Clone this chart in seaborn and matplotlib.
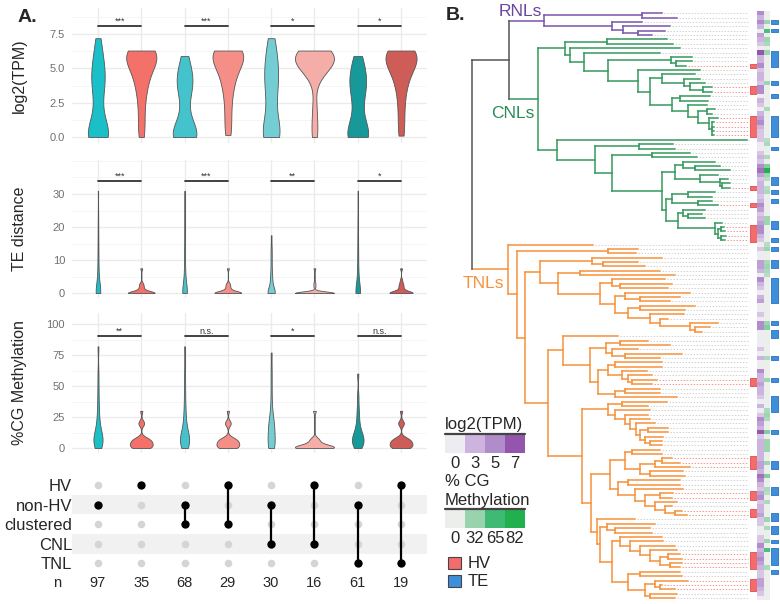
import numpy as np
import pandas as pd
import matplotlib
matplotlib.use("Agg")
import matplotlib.pyplot as plt
import seaborn as sns
from matplotlib.colors import LinearSegmentedColormap
from matplotlib.collections import LineCollection
from matplotlib.patches import Rectangle
from matplotlib.ticker import MultipleLocator

# ---------------- panel A data ----------------
group_order = ["g1", "g2", "g3", "g4", "g5", "g6", "g7", "g8"]
group_colors = ["#1ABFC8", "#F47169", "#45C3CC", "#F48E87",
                "#73CDD3", "#F5ADA8", "#17999A", "#CE5C57"]

tpm_by_group = [
    [0, 0, 0, 0, 0, 0, 0.1, 0.3, 0.6, 1.0, 1.5, 2.2, 2.9, 3.4, 3.8, 4.1, 4.4, 4.7, 5.0, 5.4, 5.9, 6.5, 7.2],
    [0, 0.8, 1.8, 2.7, 3.4, 3.9, 4.3, 4.7, 5.0, 5.3, 5.5, 5.7, 5.9, 6.0, 6.1, 6.2, 6.3, 6.3, 6.3],
    [0, 0, 0, 0, 0, 0, 0.2, 0.5, 0.9, 1.5, 2.4, 3.2, 3.6, 3.9, 4.1, 4.4, 4.8, 5.3, 5.9],
    [0.15, 1.0, 2.0, 2.9, 3.6, 4.1, 4.5, 4.9, 5.2, 5.5, 5.7, 5.9, 6.0, 6.1, 6.2, 6.3, 6.3, 6.3],
    [0, 0, 0, 0, 0.2, 0.5, 1.0, 1.6, 2.3, 3.0, 3.5, 3.9, 4.3, 4.7, 5.1, 5.5, 6.0, 6.6, 7.2],
    [0, 0.9, 2.2, 4.2, 4.8, 5.1, 5.3, 5.4, 5.5, 5.6, 5.7, 5.8, 5.9, 6.0, 6.1, 6.2, 6.3, 6.3],
    [0, 0, 0, 0, 0, 0.3, 0.7, 1.2, 2.0, 2.7, 3.2, 3.6, 3.9, 4.2, 4.5, 4.9, 5.4, 5.9],
    [0.1, 1.1, 2.2, 3.1, 3.8, 4.3, 4.7, 5.0, 5.3, 5.5, 5.7, 5.9, 6.0, 6.1, 6.2, 6.3, 6.3],
]
te_by_group = [
    [0, 0, 0, 0, 0, 0, 0, 0, 0, 0, 0.5, 1, 2, 3, 4, 5, 6, 8, 10, 12, 14, 17, 20, 24, 31],
    [0, 0, 0, 0, 0, 0, 0, 0, 0, 0, 0, 0, 0.3, 0.5, 0.8, 1, 1.5, 2, 2.5, 3, 7.5],
    [0, 0, 0, 0, 0, 0, 0, 0, 0, 0, 0.5, 1, 2, 3, 4, 5, 6, 8, 10, 12, 14, 17, 20, 24, 31],
    [0, 0, 0, 0, 0, 0, 0, 0, 0, 0, 0, 0, 0.3, 0.5, 0.8, 1, 1.5, 2, 2.5, 3, 7.5],
    [0, 0, 0, 0, 0, 0, 0, 0, 0, 0.5, 1, 2, 3, 4, 5, 6, 8, 10, 12, 14, 17.5],
    [0, 0, 0, 0, 0, 0, 0, 0, 0, 0, 0, 0, 0, 0, 0, 0, 0, 0, 0, 0, 0.2, 0.4, 2, 3, 7.5],
    [0, 0, 0, 0, 0, 0, 0, 0, 0, 0, 0.5, 1, 2, 3, 4, 5, 6, 8, 10, 12, 14, 17, 20, 24, 31],
    [0, 0, 0, 0, 0, 0, 0, 0, 0, 0, 0, 0.3, 0.6, 1, 1.5, 2, 2.5, 3, 4, 7.5],
]
cg_by_group = [
    [0, 1, 2, 3, 4, 5, 6, 7, 8, 9, 10, 12, 14, 16, 20, 25, 30, 38, 48, 60, 82],
    [0, 0, 0, 0, 1, 1, 2, 2, 3, 3, 4, 4, 5, 5, 6, 6, 7, 7, 8, 8, 19, 20, 21, 30],
    [0, 1, 2, 3, 4, 5, 6, 7, 8, 9, 10, 12, 14, 16, 20, 25, 30, 38, 48, 60, 82],
    [0, 0, 0, 0, 1, 1, 2, 2, 3, 3, 4, 4, 5, 5, 6, 6, 7, 7, 8, 8, 19, 20, 21, 30],
    [0, 0, 1, 2, 4, 6, 8, 10, 12, 14, 16, 18, 20, 22, 25, 30, 38, 50, 62, 77],
    [0, 0, 0, 0, 0, 0, 0, 0, 0, 1, 1, 1, 2, 2, 2, 3, 3, 5, 6, 7, 8, 30],
    [0, 1, 2, 3, 4, 5, 6, 7, 8, 9, 10, 11, 13, 15, 18, 22, 27, 33, 42, 60],
    [0, 0, 0, 0, 1, 1, 2, 2, 3, 3, 4, 4, 5, 5, 6, 6, 7, 7, 8, 8, 19, 20, 21, 30],
]
sig_tpm = ["***", "***", "*", "*"]
sig_te = ["***", "***", "**", "*"]
sig_cg = ["**", "n.s.", "*", "n.s."]

matrix_rows = ["HV", "non-HV", "clustered", "CNL", "TNL"]
matrix_sets = [["non-HV"], ["HV"], ["non-HV", "clustered"], ["HV", "clustered"],
               ["non-HV", "CNL"], ["HV", "CNL"], ["non-HV", "TNL"], ["HV", "TNL"]]
n_counts = [97, 35, 68, 29, 30, 16, 61, 19]

# ---------------- panel B data ----------------
# nested lists: [node depth, child, child, ...]; plain numbers are tip depths
rnl_tree = [544, [642, 662, 677], [612, 642, [623, 670, [638, 665, 652]]]]
cnl_tree = [538,
    [565,
        [607, 667, 673],
        [570, 680,
            [584, 660,
                [608,
                    [671, 692, [676, 692, 686]],
                    [638, 700,
                        [650,
                            [662, 695, [684, 700, [690, 705, [703, 712, 712]]]],
                            [672, [680, 710, 708],
                                [688, 707, [698, [707, 715, 712],
                                            [709, 718, [712, 714, 714, 714, 714]]]]]]]]]]],
    [557, 747,
        [595,
            [639, 673, 675],
            [612,
                [652, 690, 697],
                [662,
                    [675, [683, 715, [695, 720, 730]], [700, 718, [720, 728, [722, 730, 730]]]],
                    [666,
                        [672, [688, 715, 712], [698, 712, 718]],
                        [678, [683, 705, [688, 702, 705]],
                              [715, 722, [718, [721, 724, 725], [721, 726, 725]]]]]]]]]]
tnl_tree = [508, 593,
    [517,
        [608, 638, 636],
        [525,
            [540,
                [592, 662, [603, 638, 645]],
                [558,
                    [580, 660, 675],
                    [600,
                        [612, 665, [620, 672, 668]],
                        [615,
                            [625, 690, [640, 680, 670]],
                            [628, [640, 695, 685],
                                  [650, 684, [660, 668, [690, 718, [695, 710, 702]]]]]]]]],
            [548,
                [563, 618,
                    [590,
                        [606, [620, 648, 670], [612, 638, [625, 682, 660]]],
                        [598, [608, [615, 662, 662], [622, 647, [628, 652, [632, 657, 652]]]],
                              [615, [625, 660, 660], 677]]]],
                [582,
                    [608, [622, 667, 648],
                          [615, 650, [625, 648, [630, 650, [636, 655,
                              [640, [648, 668, 668], [645, 663, [650, 662, 662]]]]]]]],
                    [591,
                        [610,
                            [625, [632, 660, 662], [640, [655, [662, 672, 680], 690], [650, 683, 685]]],
                            [618, [628, 680, 680],
                                  [635, 683, [645, [660, 673, 672],
                                              [655, 677, [665, 672, [675, 682, 687]]]]]]],
                        [597, 635,
                            [600,
                                [607, 655, [615, 650, 652]],
                                [612,
                                    [620, 662, [630, 663, [640, 675, [650, 677,
                                        [660, [668, 680, 682], [670, 682, 680]]]]]],
                                    [628, [640, 680, 682],
                                          [645, [655, 688, [660, 662, 675]], [650, 677, 675]]]]]]]]]]]]

hv_leaves = [12, 17, 18, 24, 25, 26, 27, 28, 40, 44, 49, 50, 51, 52, 84, 85,
             102, 103, 104, 110, 111, 114, 115, 124, 125, 126, 127, 130, 131, 132]
te_leaves = [2, 4, 9, 10, 11, 12, 16, 19, 24, 25, 26, 27, 28, 31, 38, 39, 41, 43, 48, 49,
             52, 54, 57, 58, 61, 62, 63, 64, 65, 66, 71, 73, 74, 79, 84, 88, 89, 90, 91,
             96, 103, 104, 109, 110, 115, 116, 118, 119, 121, 123, 124, 125, 126, 128]
tpm_leaves = [5, 3, 5, 3, 0, 4, 3, 2, 0, 7,
              3, 3, 5, 2, 3, 3, 2, 5, 5, 0,
              3, 2, 0, 3, 4, 5, 3, 2, 2, 2,
              0, 0, 2, 3, 2, 5, 6, 4, 2, 3,
              3, 3, 2, 3, 5, 4, 2, 3, 4, 5,
              5, 3, 2, 0, 2, 0, 0, 4, 4, 3,
              0, 5, 3, 2, 0, 3, 4, 0, 0, 2,
              0, 5, 5, 0, 0, 0, 0, 2, 0, 3,
              0, 0, 5, 3, 3, 4, 3, 3, 2, 0,
              3, 0, 2, 5, 4, 3, 7, 2, 3, 3,
              3, 3, 3, 4, 4, 3, 6, 5, 3, 2,
              4, 5, 2, 3, 3, 4, 2, 2, 0, 0,
              2, 2, 5, 3, 4, 5, 4, 3, 2, 2,
              4, 4, 3, 2, 0]
cg_leaves = [0, 0, 30, 0, 60, 0, 30, 25, 0, 30,
             0, 0, 0, 0, 0, 0, 30, 0, 0, 0,
             0, 0, 25, 0, 0, 0, 0, 0, 0, 20,
             25, 0, 0, 25, 0, 40, 82, 30, 20, 0,
             20, 25, 0, 0, 0, 0, 0, 30, 30, 0,
             0, 0, 0, 20, 30, 0, 0, 25, 30, 25,
             20, 0, 0, 0, 0, 0, 0, 0, 0, 0,
             0, 30, 40, 0, 0, 0, 0, 0, 0, 25,
             0, 0, 0, 0, 30, 0, 0, 0, 0, 0,
             0, 25, 30, 25, 0, 0, 40, 0, 30, 30,
             30, 0, 0, 30, 0, 0, 40, 0, 0, 25,
             20, 0, 25, 0, 0, 0, 30, 0, 25, 0,
             0, 30, 0, 60, 0, 0, 0, 25, 0, 0,
             0, 0, 0, 0, 0]
tpm_legend = [0, 3, 5, 7]
cg_legend = [0, 32, 65, 82]

clade_colors = {"RNL": "#7A55AD", "CNL": "#349A5E", "TNL": "#F7923A", "root": "#555555"}

# ---------------- style ----------------
sns.set_style("white")
plt.rcParams["font.family"] = ["Liberation Sans", "DejaVu Sans"]

W, H = 780, 604
fig = plt.figure(figsize=(7.8, 6.04), dpi=100)


def box(left, top, right, bottom):
    return [left / W, 1 - bottom / H, (right - left) / W, (bottom - top) / H]


def violin_panel(ax, values, ylim, ticks, ticklabels, minor, ylabel, sig, sig_y, bw):
    df = pd.DataFrame({
        "grp": np.repeat(group_order, [len(v) for v in values]),
        "val": np.concatenate([np.asarray(v, float) for v in values]),
    })
    sns.violinplot(data=df, x="grp", y="val", hue="grp", order=group_order,
                   hue_order=group_order, palette=dict(zip(group_order, group_colors)),
                   legend=False, cut=0, inner=None, density_norm="area", common_norm=True,
                   width=0.9, linewidth=0.6, linecolor="#555555", saturation=1,
                   bw_method="silverman", bw_adjust=bw, ax=ax)
    ax.set_xlim(-0.6, 7.6)
    ax.set_ylim(*ylim)
    ax.set_xticks(range(8))
    ax.set_xticklabels([])
    ax.set_yticks(ticks)
    ax.set_yticklabels(ticklabels)
    ax.yaxis.set_minor_locator(MultipleLocator(minor))
    ax.tick_params(length=0, labelsize=8, labelcolor="#707070", pad=5)
    ax.grid(True, which="major", color="#EBEBEB", lw=1.0)
    ax.grid(True, which="minor", axis="y", color="#F4F4F4", lw=0.6)
    ax.set_axisbelow(True)
    for s in ax.spines.values():
        s.set_visible(False)
    ax.set_xlabel("")
    ax.set_ylabel(ylabel, fontsize=11.5)
    ax.yaxis.set_label_coords(-0.128, 0.5)
    for k, lab in enumerate(sig):
        ax.plot([2 * k, 2 * k + 1], [sig_y, sig_y], color="#333333", lw=1.3)
        ax.text(2 * k + 0.5, sig_y, lab, ha="center", va="bottom", fontsize=6.5,
                color="#333333")


ax1 = fig.add_axes(box(72, 8, 427, 143))
violin_panel(ax1, tpm_by_group, (-0.44, 9.4), [0, 2.5, 5, 7.5],
             ["0.0", "2.5", "5.0", "7.5"], 1.25, "log2(TPM)", sig_tpm, 8.08, 0.75)
ax2 = fig.add_axes(box(72, 160, 427, 298))
violin_panel(ax2, te_by_group, (-1.5, 40.3), [0, 10, 20, 30],
             ["0", "10", "20", "30"], 5, "TE distance", sig_te, 33.9, 0.5)
ax3 = fig.add_axes(box(72, 313, 427, 453))
violin_panel(ax3, cg_by_group, (-4, 108.9), [0, 25, 50, 75, 100],
             ["0", "25", "50", "75", "100"], 12.5, "%CG Methylation", sig_cg, 90.3, 0.5)

# membership matrix
ax4 = fig.add_axes(box(72, 473, 427, 596))
rows_idx = {r: i for i, r in enumerate(matrix_rows)}
mat = pd.DataFrame([(c, rows_idx[r], r in s) for c, s in enumerate(matrix_sets)
                    for r in matrix_rows], columns=["col", "row", "member"])
for r in (1, 3):
    ax4.axhspan(r - 0.5, r + 0.5, color="#F1F1F1", lw=0, zorder=0)
for c, s in enumerate(matrix_sets):
    ys = [rows_idx[r] for r in s]
    ax4.plot([c, c], [min(ys), max(ys)], color="black", lw=1.6, zorder=2)
sns.scatterplot(data=mat[~mat["member"]], x="col", y="row", color="#D5D5D5",
                s=30, linewidth=0, ax=ax4, zorder=1)
sns.scatterplot(data=mat[mat["member"]], x="col", y="row", color="black",
                s=36, linewidth=0, ax=ax4, zorder=3)
for c, n in enumerate(n_counts):
    ax4.text(c, 5, str(n), ha="center", va="center", fontsize=10.5)
ax4.text(-0.95, 5, "n", ha="center", va="center", fontsize=10.5)
ax4.set_xlim(-0.6, 7.6)
ax4.set_ylim(5.66, -0.61)
ax4.set_xticks([])
ax4.set_yticks(range(5))
ax4.set_yticklabels(matrix_rows, fontsize=12)
ax4.tick_params(length=0, pad=0)
ax4.set_xlabel("")
ax4.set_ylabel("")
for s in ax4.spines.values():
    s.set_visible(False)

fig.text(18 / W, 1 - 18 / H, "A.", fontsize=14, weight="bold", va="center")

# ---------------- panel B: tree ----------------
n_leaves = len(tpm_leaves)
axt = fig.add_axes(box(440, 11.1, 780, 600.2))
axt.set_xlim(440, 780)
axt.set_ylim(n_leaves - 0.5, -0.5)
axt.axis("off")


def walk(node, parent_x, segs, tips):
    if not isinstance(node, list):
        y = len(tips)
        tips.append(node)
        segs.append([(parent_x, y), (node, y)])
        return y
    x = node[0]
    ys = [walk(c, x, segs, tips) for c in node[1:]]
    segs.append([(x, min(ys)), (x, max(ys))])
    y = (min(ys) + max(ys)) / 2
    segs.append([(parent_x, y), (x, y)])
    return y


root_x, upper_x = 472, 509
tips = []
segs_r, segs_c, segs_t = [], [], []
y_r = walk(rnl_tree, upper_x, segs_r, tips)
y_c = walk(cnl_tree, upper_x, segs_c, tips)
y_t = walk(tnl_tree, root_x, segs_t, tips)
y_up = (y_r + y_c) / 2
segs_root = [[(upper_x, y_r), (upper_x, y_c)], [(root_x, y_up), (upper_x, y_up)],
             [(root_x, y_up), (root_x, y_t)]]

hv_set = set(hv_leaves)
for i, tip in enumerate(tips):
    col = "#F39A98" if i in hv_set else "#D2D2D2"
    axt.plot([tip + 2, 748], [i, i], color=col, lw=0.7, ls=(0, (1.5, 1.6)), zorder=1)

for segs, key in ((segs_r, "RNL"), (segs_c, "CNL"), (segs_t, "TNL"), (segs_root, "root")):
    axt.add_collection(LineCollection(segs, colors=clade_colors[key], linewidths=1.1,
                                      capstyle="projecting", zorder=2))


def runs(idx):
    idx = sorted(idx)
    out, start = [], idx[0]
    for a, b in zip(idx, idx[1:] + [None]):
        if b != a + 1:
            out.append((start, a))
            start = b
    return out


for a, b in runs(hv_leaves):
    axt.add_patch(Rectangle((750, a - 0.45), 6.5, b - a + 0.9, fc="#F36B6A",
                            ec="#DE4E4C", lw=0.6, joinstyle="round", zorder=3))
for a, b in runs(te_leaves):
    axt.add_patch(Rectangle((771, a - 0.4), 7, b - a + 0.8, fc="#3D8FDB",
                            ec="#2A72BD", lw=0.6, joinstyle="round", zorder=3))

tpm_cmap = LinearSegmentedColormap.from_list(
    "tpm", [(0, "#EDECF0"), (3 / 7, "#CDB4DE"), (5 / 7, "#B18CCB"), (1, "#9456AD")])
cg_cmap = LinearSegmentedColormap.from_list(
    "cg", [(0, "#ECEEEC"), (32 / 82, "#98D3AD"), (65 / 82, "#3EBA74"), (1, "#22B04F")])

ax_tpm = fig.add_axes(box(757, 11.1, 763.5, 600.2))
sns.heatmap(np.array(tpm_leaves, float).reshape(-1, 1), cmap=tpm_cmap, vmin=0, vmax=7,
            cbar=False, xticklabels=False, yticklabels=False, ax=ax_tpm)
ax_cg = fig.add_axes(box(763.5, 11.1, 770, 600.2))
sns.heatmap(np.array(cg_leaves, float).reshape(-1, 1), cmap=cg_cmap, vmin=0, vmax=82,
            cbar=False, xticklabels=False, yticklabels=False, ax=ax_cg)

# clade labels
fig.text(520 / W, 1 - 11 / H, "RNLs", color="#6A45A0", fontsize=12.5, ha="center", va="center")
fig.text(513 / W, 1 - 113 / H, "CNLs", color="#2A8C55", fontsize=12.5, ha="center", va="center")
fig.text(483 / W, 1 - 284 / H, "TNLs", color="#F7923A", fontsize=12.5, ha="center", va="center")
fig.text(446 / W, 1 - 16 / H, "B.", fontsize=14, weight="bold", va="center")

# legends
fig.text(445 / W, 1 - 425 / H, "log2(TPM)", fontsize=12, va="center")
axl1 = fig.add_axes(box(445, 434, 525, 453))
sns.heatmap(np.array([tpm_legend], float), cmap=tpm_cmap, vmin=0, vmax=7, cbar=False,
            xticklabels=[str(v) for v in tpm_legend], yticklabels=False, ax=axl1)
axl1.axhline(0, color="#444444", lw=1.6, clip_on=False)
axl1.tick_params(length=0, labelsize=12, pad=2)

fig.text(445 / W, 1 - 481 / H, "% CG", fontsize=12, va="center")
fig.text(445 / W, 1 - 500 / H, "Methylation", fontsize=12, va="center")
axl2 = fig.add_axes(box(445, 509, 525, 528))
sns.heatmap(np.array([cg_legend], float), cmap=cg_cmap, vmin=0, vmax=82, cbar=False,
            xticklabels=[str(v) for v in cg_legend], yticklabels=False, ax=axl2)
axl2.axhline(0, color="#444444", lw=1.6, clip_on=False)
axl2.tick_params(length=0, labelsize=12, pad=2)

for ytop, fc, lab in ((557, "#F36B6A", "HV"), (575, "#3D8FDB", "TE")):
    fig.add_artist(Rectangle((448 / W, 1 - (ytop + 12) / H), 13 / W, 12 / H, fc=fc,
                             ec="#444444", lw=0.8, transform=fig.transFigure))
    fig.text(468 / W, 1 - (ytop + 6) / H, lab, fontsize=12, va="center")

fig.savefig("out.png", dpi=100)
